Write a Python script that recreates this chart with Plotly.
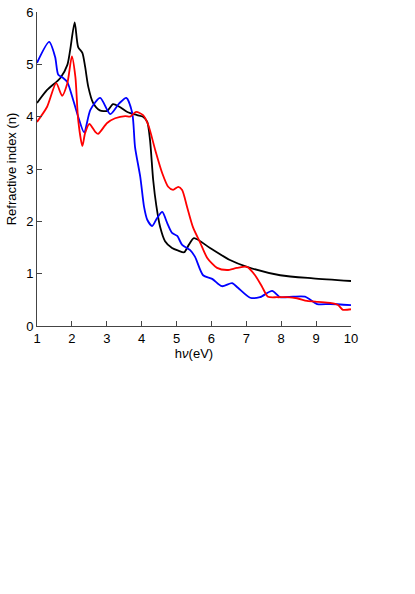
import plotly.graph_objs as go

# black curve
black_x = [1.0, 1.29, 1.67, 1.87, 1.95, 2.08, 2.18, 2.30, 2.38, 2.47, 2.61, 2.80, 3.01, 3.18, 3.36, 3.59, 3.87, 4.04, 4.16, 4.24,
           4.33, 4.42, 4.53, 4.67, 4.87, 5.05, 5.22, 5.35, 5.50, 5.96, 6.53, 7.02, 7.97, 8.91, 10.0]
black_y = [4.26, 4.51, 4.74, 4.99, 5.27, 5.80, 5.33, 5.22, 4.95, 4.57, 4.26, 4.12, 4.11, 4.24, 4.19, 4.09, 4.03, 4.00, 3.90, 3.55,
           2.79, 2.30, 1.89, 1.62, 1.49, 1.44, 1.41, 1.55, 1.68, 1.49, 1.26, 1.13, 0.97, 0.91, 0.86]

# blue curve
blue_x = [1.0, 1.35, 1.52, 1.61, 1.75, 1.87, 2.01, 2.18, 2.35, 2.53, 2.81, 3.10, 3.35, 3.56, 3.73, 3.81, 3.96, 4.07, 4.16, 4.30,
          4.44, 4.59, 4.73, 4.87, 5.02, 5.16, 5.39, 5.53, 5.76, 6.02, 6.30, 6.59, 6.76, 7.11, 7.39, 7.74, 7.97, 8.34, 8.68,
          9.03, 9.40, 10.0]
blue_y = [5.03, 5.43, 5.14, 4.80, 4.74, 4.66, 4.38, 4.00, 3.70, 4.13, 4.36, 4.05, 4.25, 4.36, 4.07, 3.42, 2.85, 2.27, 2.03, 1.91,
          2.06, 2.18, 1.97, 1.78, 1.72, 1.55, 1.45, 1.32, 0.97, 0.90, 0.76, 0.82, 0.73, 0.54, 0.55, 0.67, 0.55, 0.56, 0.56,
          0.42, 0.42, 0.40]

# red curve
red_x = [1.0, 1.29, 1.55, 1.72, 1.87, 2.0, 2.10, 2.18, 2.30, 2.38, 2.50, 2.67, 2.75, 3.01, 3.24, 3.53, 3.67, 3.84, 4.04, 4.19,
         4.39, 4.59, 4.76, 4.90, 5.05, 5.16, 5.30, 5.47, 5.68, 5.88, 6.16, 6.45, 6.73, 7.02, 7.25, 7.45, 7.62, 7.88, 8.17,
         8.45, 8.74, 9.05, 9.40, 9.63, 9.77, 10.0]
red_y = [3.90, 4.19, 4.64, 4.40, 4.64, 5.15, 4.76, 3.94, 3.44, 3.69, 3.86, 3.71, 3.67, 3.88, 3.97, 4.01, 4.00, 4.09, 4.03, 3.84,
         3.36, 2.92, 2.66, 2.60, 2.66, 2.60, 2.28, 1.89, 1.59, 1.30, 1.11, 1.07, 1.11, 1.13, 0.97, 0.75, 0.56, 0.55, 0.55,
         0.53, 0.48, 0.46, 0.44, 0.40, 0.31, 0.32]

fig = go.Figure()
for xs, ys, c in [(black_x, black_y, 'black'), (blue_x, blue_y, '#0000ff'), (red_x, red_y, '#ff0000')]:
    fig.add_trace(go.Scatter(x=xs, y=ys, mode='lines', line=dict(color=c, width=1.8, shape='spline', smoothing=0.7),
                             showlegend=False, cliponaxis=False))

axis_common = dict(showgrid=False, zeroline=False, showline=True, linecolor='#444', linewidth=1, automargin=False,
                   ticks='inside', ticklen=5, tickcolor='#444', tickfont=dict(size=13, color='black'))
fig.update_xaxes(range=[1, 10], dtick=1, title=dict(text='h<i>ν</i>(eV)', font=dict(size=13), standoff=4), **axis_common)
fig.update_yaxes(range=[0, 6], dtick=1, title=dict(text='Refractive index (n)', font=dict(size=13), standoff=6), **axis_common)

fig.update_layout(width=415, height=594, margin=dict(l=37, r=64, t=12, b=268, autoexpand=False),
                  paper_bgcolor='white', plot_bgcolor='white',
                  font=dict(family='Liberation Sans, Arial', color='black'))

# drop the default 8px body margin so the figure sits at the page corner
fig.write_html("out.html", config={'displayModeBar': False},
               post_script="document.body.style.margin='0';")
